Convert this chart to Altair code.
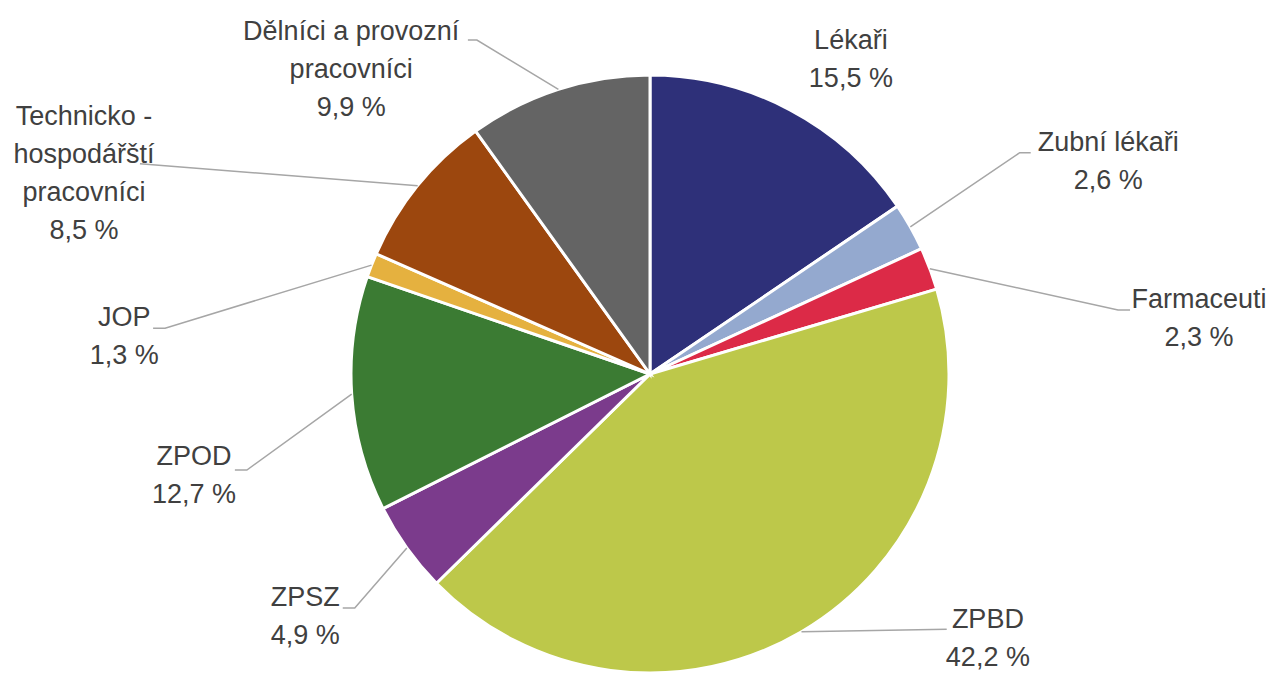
import altair as alt
import numpy as np
import pandas as pd

# ---- data ----
categories = ["Lékaři", "Zubní lékaři", "Farmaceuti", "ZPBD", "ZPSZ", "ZPOD", "JOP",
              "Technicko-hospodářští pracovníci", "Dělníci a provozní pracovníci"]
shares = [15.5, 2.6, 2.3, 42.2, 4.9, 12.7, 1.3, 8.5, 9.9]
label_names = ["Lékaři", "Zubní lékaři", "Farmaceuti", "ZPBD", "ZPSZ", "ZPOD", "JOP",
               "Technicko -\nhospodářští\npracovníci", "Dělníci a provozní\npracovníci"]
colors = ["#2E3079", "#94A9CF", "#DC2A47", "#BDC84A", "#7B3B8C", "#3B7B33", "#E5B13F",
          "#9C470E", "#646464"]

# ---- label layout (polar: degrees clockwise from 12 o'clock, distance in pie radii) ----
label_angle = [32.6, 65.2, 84.3, 128.1, 234.8, 257.4, 274.0, 289.5, 315.5]
label_dist = [1.247, 1.688, 1.845, 1.436, 1.411, 1.563, 1.763, 2.008, 1.426]
elbow_angle = [None, 59.1, 82.2, 130.7, 231.6, 256.6, 275.4, 292.4, 332.6]
elbow_dist = [None, 1.441, 1.580, 1.309, 1.260, 1.386, 1.629, 1.845, 1.258]
tick_px = [0, 11, 12, 0, -12, -12, -12, 0, -9]

W, H = 1260, 665
CX, CY, R = 642, 366, 299
LH = 38

total = sum(shares)
cum = np.cumsum([0] + shares[:-1])
mid = [(c + s / 2) / total * 360 for c, s in zip(cum, shares)]

df = pd.DataFrame({"category": categories, "share": shares, "idx": list(range(len(shares)))})

labels = []
for i, name in enumerate(label_names):
    a = np.radians(label_angle[i])
    pct = f"{shares[i]:.1f}".replace(".", ",") + " %"
    txt = name + "\n" + pct
    n = txt.count("\n") + 1
    labels.append({"category": categories[i], "text": txt,
                   "u": label_dist[i] * np.sin(a),
                   "v": label_dist[i] * np.cos(a) + (n - 1) * LH / 2 / R})
ldf = pd.DataFrame(labels)

pts = []
for i in range(len(categories)):
    if elbow_angle[i] is None:
        continue
    m = np.radians(mid[i])
    e = np.radians(elbow_angle[i])
    eu, ev = elbow_dist[i] * np.sin(e), elbow_dist[i] * np.cos(e)
    pts.append({"category": categories[i], "pt": 0, "u": np.sin(m), "v": np.cos(m)})
    pts.append({"category": categories[i], "pt": 1, "u": eu, "v": ev})
    pts.append({"category": categories[i], "pt": 2, "u": eu + tick_px[i] / R, "v": ev})
pdf = pd.DataFrame(pts)

xs = alt.Scale(domain=[-CX / R, (W - CX) / R], nice=False, zero=False)
ys = alt.Scale(domain=[-(H - CY) / R, CY / R], nice=False, zero=False)

pie = alt.Chart(df).mark_arc(radius=R, stroke="white", strokeWidth=3).encode(
    theta=alt.Theta("share:Q", stack=True),
    order=alt.Order("idx:Q"),
    color=alt.Color("category:N", scale=alt.Scale(domain=categories, range=colors), legend=None),
    x=alt.value(CX),
    y=alt.value(CY),
)

lines = alt.Chart(pdf).mark_line(color="#A6A6A6", strokeWidth=1.5).encode(
    x=alt.X("u:Q", scale=xs, axis=None),
    y=alt.Y("v:Q", scale=ys, axis=None),
    detail="category:N",
    order="pt:Q",
)

text = alt.Chart(ldf).mark_text(
    font="Liberation Sans", fontSize=27, color="#404040", lineHeight=LH,
    align="center", baseline="middle", lineBreak="\n",
).encode(
    x=alt.X("u:Q", scale=xs, axis=None),
    y=alt.Y("v:Q", scale=ys, axis=None),
    text="text:N",
)

chart = alt.layer(pie, lines, text).properties(
    width=W, height=H, padding=0, autosize=alt.AutoSizeParams(type="none"),
).configure_view(stroke=None)

chart.save("out.html", embed_options={"renderer": "svg", "actions": False})
